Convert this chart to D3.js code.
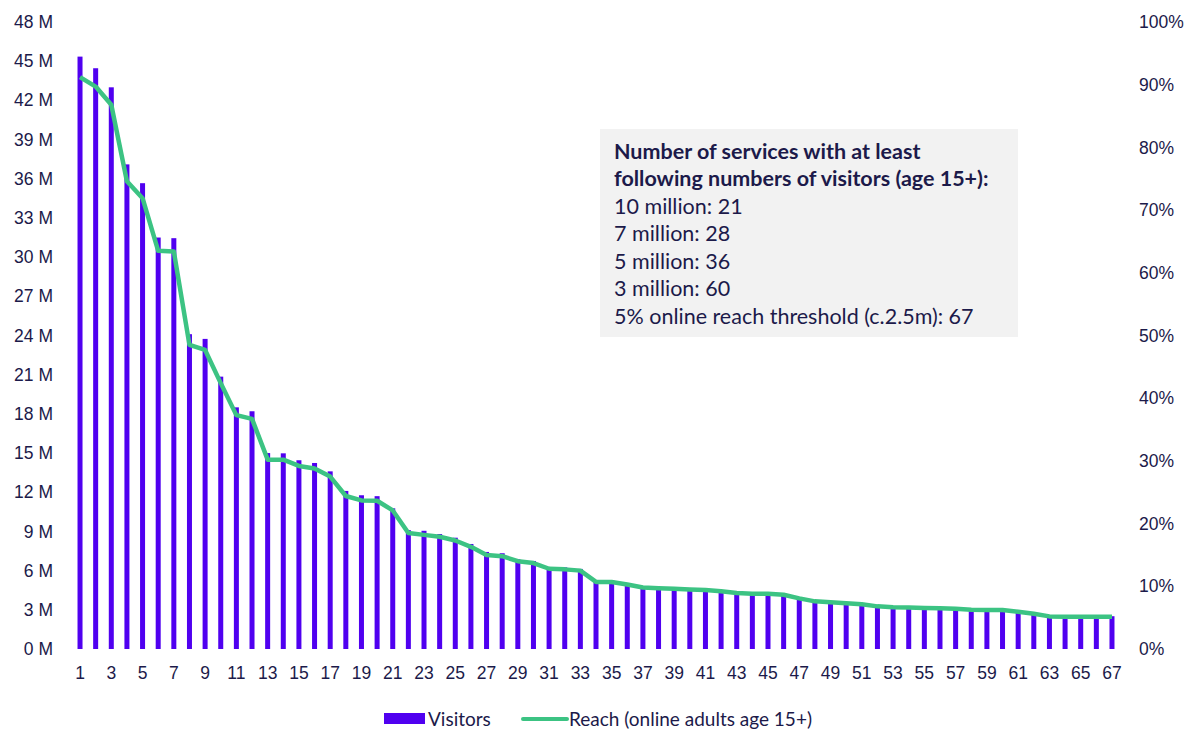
<!DOCTYPE html>
<html>
<head>
<meta charset="utf-8">
<script src="https://cdn.jsdelivr.net/npm/d3@7"></script>
<style>
  body { margin: 0; background: #fff; }
  svg { font-family: Lato, "Open Sans", sans-serif; }
  .tick text { fill: #1c1a4a; font-size: 17.5px; }
</style>
</head>
<body>
<div id="chart"></div>
<script>
// services ranked 1..67
const ranks = d3.range(1, 68);

// visitors, millions (age 15+)
const visitors = [
  45.35, 44.46, 43.0, 37.1, 35.66, 31.5, 31.45, 24.1, 23.74, 20.85,
  18.5, 18.2, 15.0, 14.98, 14.45, 14.24, 13.6, 12.1, 11.77, 11.7,
  10.77, 9.1, 9.05, 8.8, 8.52, 8.04, 7.43, 7.33, 6.87, 6.74,
  6.23, 6.25, 6.13, 5.23, 5.28, 5.05, 4.72, 4.72, 4.65, 4.58,
  4.5, 4.45, 4.36, 4.29, 4.29, 4.22, 3.94, 3.7, 3.63, 3.55,
  3.47, 3.31, 3.23, 3.2, 3.17, 3.15, 3.12, 3.05, 3.02, 3.01,
  2.9, 2.76, 2.54, 2.52, 2.52, 2.52, 2.51
];

// reach, % of online adults 15+
const reach = [
  91.2, 89.7, 86.8, 74.6, 71.9, 63.5, 63.4, 48.5, 47.7, 42.4,
  37.3, 36.7, 30.2, 30.2, 29.2, 28.8, 27.5, 24.4, 23.7, 23.65,
  22.1, 18.5, 18.2, 17.9, 17.3, 16.3, 15.0, 14.8, 14.0, 13.7,
  12.8, 12.7, 12.5, 10.7, 10.7, 10.3, 9.8, 9.7, 9.6, 9.5,
  9.4, 9.2, 8.93, 8.8, 8.8, 8.66, 8.08, 7.6, 7.45, 7.29,
  7.13, 6.8, 6.65, 6.6, 6.54, 6.49, 6.43, 6.27, 6.22, 6.22,
  5.95, 5.63, 5.2, 5.15, 5.15, 5.15, 5.15
];

const leftTicks = d3.range(0, 49, 3);
const rightTicks = d3.range(0, 101, 10);
const xTicks = ranks.filter(function(d) { return d % 2 === 1; });

const noteLines = [
  { text: 'Number of services with at least', bold: true },
  { text: 'following numbers of visitors (age 15+):', bold: true },
  { text: '10 million: 21', bold: false },
  { text: '7 million: 28', bold: false },
  { text: '5 million: 36', bold: false },
  { text: '3 million: 60', bold: false },
  { text: '5% online reach threshold (c.2.5m): 67', bold: false }
];

const W = 1195, H = 731;
const barColor = '#5000f0';
const lineColor = '#3cc383';
const textColor = '#1c1a4a';

const svg = d3.select('#chart').append('svg')
  .attr('width', W)
  .attr('height', H);

const x = d3.scaleBand()
  .domain(ranks)
  .range([72.2, 1119.8])
  .paddingInner(0.68)
  .paddingOuter(0.34);

const y = d3.scaleLinear().domain([0, 48]).range([649, 22]);
const yR = d3.scaleLinear().domain([0, 100]).range([649, 22]);

// bars
svg.append('g')
  .selectAll('rect')
  .data(ranks)
  .join('rect')
  .attr('x', function(d) { return x(d); })
  .attr('y', function(d, i) { return y(visitors[i]); })
  .attr('width', x.bandwidth())
  .attr('height', function(d, i) { return y(0) - y(visitors[i]); })
  .attr('fill', barColor);

// reach line
const line = d3.line()
  .x(function(d) { return x(d) + x.bandwidth() / 2; })
  .y(function(d, i) { return yR(reach[i]); });

svg.append('path')
  .datum(ranks)
  .attr('d', line)
  .attr('fill', 'none')
  .attr('stroke', lineColor)
  .attr('stroke-width', 4.5)
  .attr('stroke-linejoin', 'round');

// axes
const left = svg.append('g')
  .attr('transform', 'translate(53,0)')
  .call(d3.axisLeft(y).tickValues(leftTicks).tickSize(0).tickPadding(0)
    .tickFormat(function(d) { return d + ' M'; }));
left.select('.domain').remove();

const right = svg.append('g')
  .attr('transform', 'translate(1139,0)')
  .call(d3.axisRight(yR).tickValues(rightTicks).tickSize(0).tickPadding(0)
    .tickFormat(function(d) { return d + '%'; }));
right.select('.domain').remove();

const bottom = svg.append('g')
  .attr('transform', 'translate(0,667)')
  .call(d3.axisBottom(x).tickValues(xTicks).tickSize(0).tickPadding(0));
bottom.select('.domain').remove();

svg.selectAll('.tick text').attr('font-family', null);

// note box
svg.append('rect')
  .attr('x', 600).attr('y', 129)
  .attr('width', 418).attr('height', 208)
  .attr('fill', '#f2f2f2');

svg.append('g')
  .selectAll('text')
  .data(noteLines)
  .join('text')
  .attr('x', 614)
  .attr('y', function(d, i) { return 158.5 + i * 27.5; })
  .attr('fill', textColor)
  .attr('font-size', 21.5)
  .attr('font-weight', function(d) { return d.bold ? 700 : 400; })
  .text(function(d) { return d.text; });

// legend
const legend = svg.append('g');
legend.append('rect')
  .attr('x', 384).attr('y', 713)
  .attr('width', 41).attr('height', 11)
  .attr('fill', barColor);
legend.append('text')
  .attr('x', 428).attr('y', 725.5)
  .attr('fill', textColor).attr('font-size', 19)
  .text('Visitors');
legend.append('line')
  .attr('x1', 523).attr('x2', 567)
  .attr('y1', 719).attr('y2', 719)
  .attr('stroke', lineColor).attr('stroke-width', 4)
  .attr('stroke-linecap', 'round');
legend.append('text')
  .attr('x', 569).attr('y', 725.5)
  .attr('fill', textColor).attr('font-size', 19)
  .text('Reach (online adults age 15+)');
</script>
</body>
</html>
